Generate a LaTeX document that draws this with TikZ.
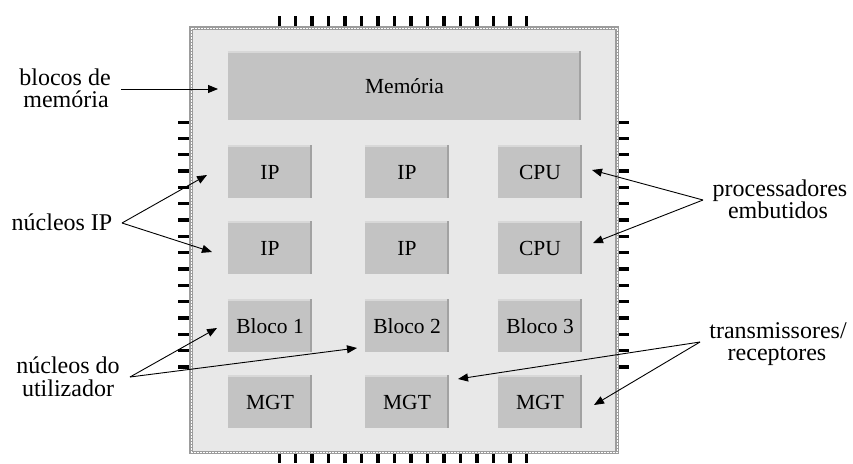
\documentclass[tikz,border=0pt]{standalone}
\usepackage{fontspec}
\setmainfont{Liberation Serif}
\usetikzlibrary{arrows.meta}
\definecolor{chipbg}{HTML}{E8E8E8}
\definecolor{boxbg}{HTML}{C3C3C3}
\definecolor{boxedge}{HTML}{A2A2A2}
\definecolor{boxtop}{HTML}{D8D8D8}
\definecolor{chipborder}{HTML}{9C9C9C}
\begin{document}
\begin{tikzpicture}[x=1pt,y=-1pt,
  blk/.style={rectangle, fill=boxbg, minimum width=84pt, minimum height=51pt, inner sep=0pt, font=\fontsize{21.5}{24}\selectfont},
  lbl/.style={inner sep=0pt, anchor=base, font=\fontsize{24}{26}\selectfont},
  arr/.style={-{Triangle[length=10pt,width=8pt]}, line width=0.9pt},
  pinmark/.style={fill=black}]
\useasboundingbox (0,0) rectangle (853,463);
% chip
\fill[chipbg] (189,27) rectangle (619,453);
\draw[chipborder, line width=3.5pt] (191,27.8) rectangle (617,452.3);
\draw[white, line width=0.6pt, dash pattern=on 0.6pt off 0.9pt] (191,27.8) rectangle (617,452.3);
% pins
\foreach \i in {0,...,15} {
  \fill[pinmark] ({277.5+16.47*\i},16) rectangle ++(3.5,10);
  \fill[pinmark] ({277.5+16.47*\i},454) rectangle ++(3.5,9);
  \fill[pinmark] (178,{120.5+16.33*\i}) rectangle ++(11,3.2);
  \fill[pinmark] (619,{120.5+16.33*\i}) rectangle ++(10,3.2);
}
% blocks
\node[blk, minimum width=353pt, minimum height=67pt] (mem) at (404.5,86.5) {Memória};
\node[blk] (ipA) at (270,172.5) {IP};
\node[blk] (ipB) at (407,172.5) {IP};
\node[blk] (cpuA) at (540,172.5) {CPU};
\node[blk] (ipC) at (270,248.5) {IP};
\node[blk] (ipD) at (407,248.5) {IP};
\node[blk] (cpuB) at (540,248.5) {CPU};
\node[blk] (blA) at (270,326.5) {Bloco 1};
\node[blk] (blB) at (407,326.5) {Bloco 2};
\node[blk] (blC) at (540,326.5) {Bloco 3};
\node[blk] (mgtA) at (270,402.5) {MGT};
\node[blk] (mgtB) at (407,402.5) {MGT};
\node[blk] (mgtC) at (540,402.5) {MGT};
\foreach \n in {mem,ipA,ipB,cpuA,ipC,ipD,cpuB,blA,blB,blC,mgtA,mgtB,mgtC} {
  \draw[boxtop, line width=1.4pt] ([yshift=0.7pt]\n.north west) -- ([yshift=0.7pt,xshift=-2pt]\n.north east);
  \draw[boxedge, line width=2pt] ([xshift=-1pt,yshift=1.4pt]\n.north east) -- ([xshift=-1pt]\n.south east);
}
% labels
\node[lbl] (lmemA) at (65,85) {blocos de};
\node[lbl] (lmemB) at (66,107.5) {memória};
\node[lbl] (lip) at (62,230) {núcleos IP};
\node[lbl] (lusrA) at (68,373) {núcleos do};
\node[lbl] (lusrB) at (68,396) {utilizador};
\node[lbl] (lcpuA) at (780,196) {processadores};
\node[lbl] (lcpuB) at (778,218.5) {embutidos};
\node[lbl] (ltrxA) at (778,338) {transmissores/};
\node[lbl] (ltrxB) at (777,360.5) {receptores};
% arrow ends
\coordinate (memS) at (121,89);  \coordinate (memT) at (218,89);
\coordinate (ipS) at (122,223);  \coordinate (ipT1) at (207,175); \coordinate (ipT2) at (212,252);
\coordinate (usrS) at (130,377); \coordinate (usrT1) at (217,328); \coordinate (usrT2) at (357,348);
\coordinate (cpuS) at (703,200); \coordinate (cpuT1) at (592,170); \coordinate (cpuT2) at (593,243);
\coordinate (trxS) at (700,342); \coordinate (trxT1) at (458,379); \coordinate (trxT2) at (594,405);
\draw[arr] (memS) -- (memT);
\draw[arr] (ipS) -- (ipT1);
\draw[arr] (ipS) -- (ipT2);
\draw[arr] (usrS) -- (usrT1);
\draw[arr] (usrS) -- (usrT2);
\draw[arr] (cpuS) -- (cpuT1);
\draw[arr] (cpuS) -- (cpuT2);
\draw[arr] (trxS) -- (trxT1);
\draw[arr] (trxS) -- (trxT2);
\end{tikzpicture}
\end{document}
